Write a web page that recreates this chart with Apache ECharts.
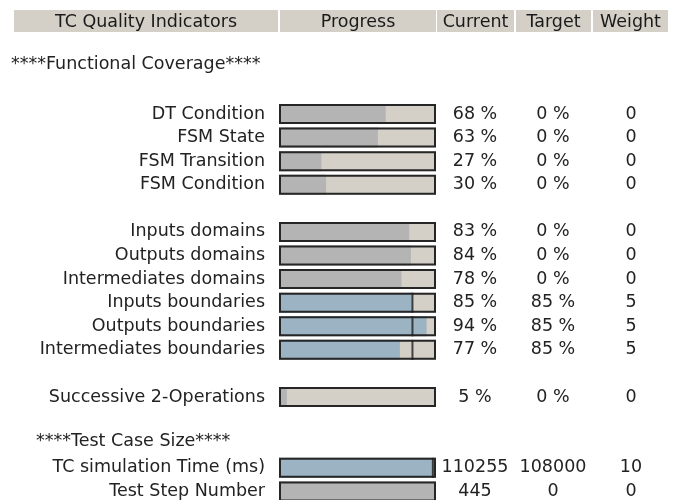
<!DOCTYPE html>
<html>
<head>
<meta charset="utf-8">
<script src="https://cdn.jsdelivr.net/npm/echarts@6/dist/echarts.min.js"></script>
<style>
html,body{margin:0;padding:0;background:#ffffff;}
#c{width:678px;height:500px;}
</style>
</head>
<body>
<div id="c"></div>
<script>
// ---- data ----
var headerLabels = ['TC Quality Indicators', 'Progress', 'Current', 'Target', 'Weight'];
var sectionTitles = ['****Functional Coverage****', '****Test Case Size****'];
var rowLabels = ['', '', 'DT Condition', 'FSM State', 'FSM Transition', 'FSM Condition', '',
  'Inputs domains', 'Outputs domains', 'Intermediates domains', 'Inputs boundaries',
  'Outputs boundaries', 'Intermediates boundaries', '', 'Successive 2-Operations', '', '',
  'TC simulation Time (ms)', 'Test Step Number'];
var progress = [null, null, 68, 63, 27, 30, null, 83, 84, 78, 85, 94, 77, null, 5, null, null, 100, 100];
var targetMark = [null, null, null, null, null, null, null, null, null, null, 85, 85, 85, null, null, null, null, 98, null];
var currentText = ['', '', '68 %', '63 %', '27 %', '30 %', '', '83 %', '84 %', '78 %', '85 %', '94 %', '77 %', '', '5 %', '', '', '110255', '445'];
var targetText = ['', '', '0 %', '0 %', '0 %', '0 %', '', '0 %', '0 %', '0 %', '85 %', '85 %', '85 %', '', '0 %', '', '', '108000', '0'];
var weightText = ['', '', '0', '0', '0', '0', '', '0', '0', '0', '5', '5', '5', '', '0', '', '', '10', '0'];
var weights = [null, null, 0, 0, 0, 0, null, 0, 0, 0, 5, 5, 5, null, 0, null, null, 10, 0];

// ---- build ----
var FONT = 'DejaVu Sans';
var FS = 17.5;
var TXT = '#222222';
var rowIds = rowLabels.map(function (_, i) { return String(i); });
var hasBar = progress.map(function (v) { return v != null; });

var trackData = hasBar.map(function (b) { return b ? 100 : null; });
var fillData = progress.map(function (v, i) {
  if (v == null) return null;
  return { value: v, itemStyle: { color: weights[i] > 0 ? '#9bb3c3' : '#b4b4b4' } };
});
var markData = [];
targetMark.forEach(function (t, i) { if (t != null) markData.push([t, i]); });

function labelStyle(extra) {
  var o = { interval: 0, fontSize: FS, fontFamily: FONT, color: TXT, padding: [3, 0, 0, 0] };
  for (var k in extra) o[k] = extra[k];
  return o;
}

function sideAxis(texts, margin) {
  return {
    type: 'category', inverse: true, position: 'right', data: rowIds,
    axisLine: { show: false }, axisTick: { show: false }, splitLine: { show: false },
    axisLabel: labelStyle({
      margin: margin, align: 'center',
      formatter: function (v, idx) { return texts[idx]; }
    })
  };
}

// header cells [x, width]
var headerCells = [[14, 264], [280, 156], [437, 77], [516, 75], [593, 75]];
var graphics = [];
headerCells.forEach(function (c, i) {
  graphics.push({ type: 'rect', left: c[0], top: 10, shape: { width: c[1], height: 22 }, style: { fill: '#d4d0c8' }, silent: true });
  graphics.push({ type: 'text', x: c[0] + c[1] / 2, y: 22, style: { text: headerLabels[i], fill: '#1a1a1a', font: FS + 'px ' + FONT, textAlign: 'center', textVerticalAlign: 'middle' }, silent: true });
});
graphics.push({ type: 'text', x: 11, y: 64, style: { text: sectionTitles[0], fill: TXT, font: FS + 'px ' + FONT, textAlign: 'left', textVerticalAlign: 'middle' }, silent: true });
graphics.push({ type: 'text', x: 36, y: 441, style: { text: sectionTitles[1], fill: TXT, font: FS + 'px ' + FONT, textAlign: 'left', textVerticalAlign: 'middle' }, silent: true });

var chart = echarts.init(document.getElementById('c'), null, { renderer: 'canvas' });
chart.setOption({
  animation: false,
  backgroundColor: '#ffffff',
  grid: { left: 279, top: 55, width: 157, height: 448.2, containLabel: false, outerBoundsMode: 'none' },
  xAxis: { type: 'value', min: 0, max: 100, show: false },
  yAxis: [
    {
      type: 'category', inverse: true, data: rowIds,
      axisLine: { show: false }, axisTick: { show: false }, splitLine: { show: false },
      axisLabel: labelStyle({
        margin: 14,
        formatter: function (v, idx) { return rowLabels[idx]; }
      })
    },
    sideAxis(currentText, 39),
    sideAxis(targetText, 117),
    sideAxis(weightText, 195)
  ],
  graphic: graphics,
  series: [
    { type: 'bar', yAxisIndex: 0, data: trackData, barWidth: 20, barGap: '-100%', itemStyle: { color: '#d4d0c8' }, silent: true, z: 2 },
    { type: 'bar', yAxisIndex: 0, data: fillData, barWidth: 20, barGap: '-100%', silent: true, z: 3 },
    { type: 'bar', yAxisIndex: 0, data: trackData, barWidth: 20, barGap: '-100%', itemStyle: { color: 'rgba(0,0,0,0)', borderColor: '#262626', borderWidth: 2 }, silent: true, z: 4 },
    { type: 'scatter', yAxisIndex: 0, data: markData, symbol: 'rect', symbolSize: [2, 20], itemStyle: { color: '#1e1e1e' }, silent: true, z: 5 }
  ]
});
</script>
</body>
</html>
